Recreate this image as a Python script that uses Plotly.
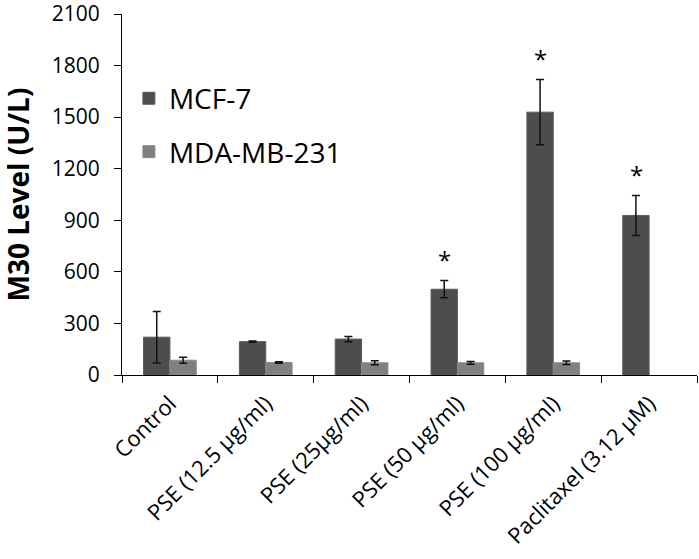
import plotly.graph_objects as go

categories = ["Control", "PSE (12.5 µg/ml)", "PSE (25µg/ml)", "PSE (50 µg/ml)",
              "PSE (100 µg/ml)", "Paclitaxel (3.12 µM)"]
mcf7 = [220, 194, 209, 499, 1529, 928]
mcf7_err = [150, 4, 15, 50, 190, 116]
mda = [86, 73, 71, 71, 71, None]
mda_err = [17, 4, 12, 8, 10, None]
significant = [False, False, False, True, True, True]
y_ticks = [0, 300, 600, 900, 1200, 1500, 1800, 2100]

FONT = "Open Sans"

fig = go.Figure()
fig.add_trace(go.Bar(
    name="MCF-7", x=categories, y=mcf7, legendgroup="a",
    marker=dict(color="#4d4d4d", line=dict(color="#5a5a5a", width=1)),
    error_y=dict(type="data", array=mcf7_err, color="#111111", thickness=1.5, width=4),
))
fig.add_trace(go.Bar(
    name="MDA-MB-231", x=categories, y=mda, legendgroup="b",
    marker=dict(color="#808080", line=dict(color="#8c8c8c", width=1)),
    error_y=dict(type="data", array=mda_err, color="#111111", thickness=1.5, width=4),
))

for c, v, e, s in zip(categories, mcf7, mcf7_err, significant):
    if s:
        fig.add_annotation(x=c, y=v + e, text="*", showarrow=False, xshift=-13,
                           yanchor="bottom", yshift=3,
                           font=dict(family=FONT, size=24, color="black"))

fig.add_annotation(text="<b>M30 Level (U/L)</b>", xref="paper", yref="paper",
                   x=0, y=0.5, xanchor="center", yanchor="middle", xshift=-105,
                   textangle=-90, showarrow=False,
                   font=dict(family=FONT, size=28, color="black"))

fig.update_layout(
    width=699, height=559,
    margin=dict(l=122, r=2, t=14, b=184),
    paper_bgcolor="white", plot_bgcolor="white",
    barmode="group", bargap=0.45, bargroupgap=0,
    font=dict(family=FONT, color="black"),
    legend=dict(x=0.012, y=0.835, xanchor="left", yanchor="top",
                font=dict(family=FONT, size=28, color="black"),
                traceorder="grouped", tracegroupgap=14,
                bgcolor="rgba(0,0,0,0)"),
    xaxis=dict(showline=True, linecolor="black", linewidth=1.2, automargin=False,
               ticks="outside", tickson="boundaries", ticklen=7, tickcolor="black",
               ticklabelstandoff=6,
               tickangle=-45, tickfont=dict(family=FONT, size=22, color="black"),
               showgrid=False),
    yaxis=dict(range=[0, 2100], tickvals=y_ticks, showline=True, linecolor="black",
               linewidth=1.2, ticks="outside", ticklen=7, tickcolor="black",
               automargin=False, ticklabelstandoff=10, ticklabeloverflow="allow",
               tickfont=dict(family=FONT, size=21, color="black"), showgrid=False,
               zeroline=False),
)

fig.write_html("out.html", config={"displayModeBar": False},
               post_script="document.body.style.margin='0';document.body.style.overflow='hidden';")
